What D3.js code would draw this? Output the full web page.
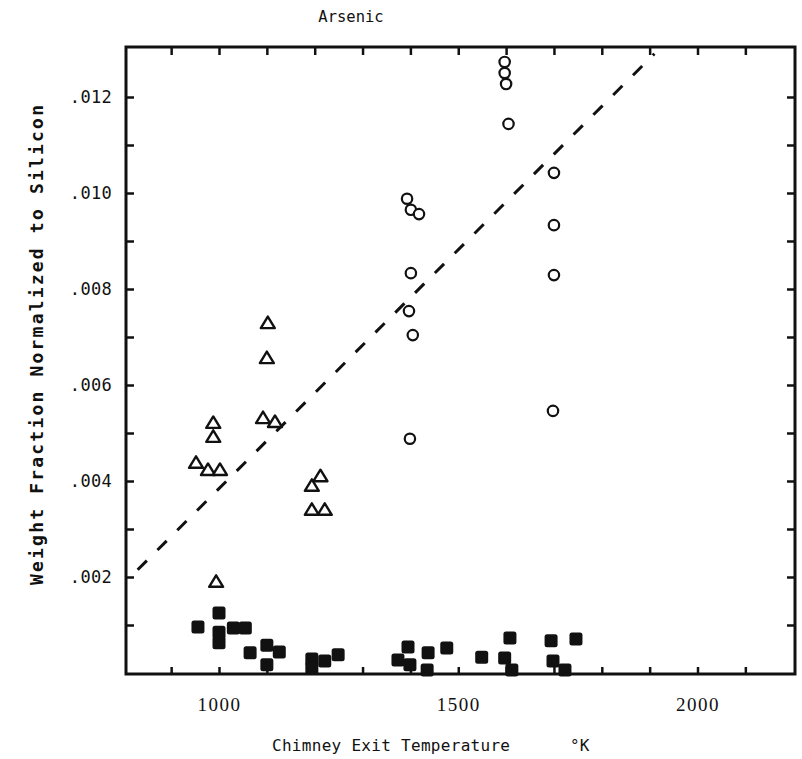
<!DOCTYPE html>
<html>
<head>
<meta charset="utf-8">
<script src="https://cdn.jsdelivr.net/npm/d3@7"></script>
<style>
  html, body { margin: 0; padding: 0; background: #fff; }
  svg { display: block; }
</style>
</head>
<body>
<svg id="chart" width="802" height="759"></svg>
<script>
// ---- data ----
const circleTemp = [1597, 1597, 1600, 1605, 1393, 1401, 1418, 1401, 1397, 1405, 1399, 1700, 1700, 1700, 1698];
const circleVal  = [0.01273, 0.0125, 0.01227, 0.01144, 0.00988, 0.00965, 0.00956, 0.00833, 0.00754, 0.00704, 0.00488, 0.01042, 0.00933, 0.00829, 0.00546];

const triTemp = [1102, 1100, 1092, 1117, 988, 988, 952, 977, 1002, 1194, 1212, 1194, 1221, 994];
const triVal  = [0.00729, 0.00656, 0.00531, 0.00523, 0.00521, 0.00492, 0.00438, 0.00423, 0.00423, 0.0039, 0.0041, 0.0034, 0.0034, 0.0019];

const sqTemp = [956, 1000, 1000, 1000, 1030, 1055, 1065, 1100, 1126, 1100, 1194, 1194, 1221, 1249,
                1374, 1395, 1399, 1437, 1435, 1476, 1549, 1608, 1597, 1612, 1694, 1746, 1698, 1723];
const sqVal  = [0.00096, 0.00125, 0.00085, 0.00063, 0.00094, 0.00094, 0.00042, 0.00058, 0.00044, 0.00017, 0.00029, 0.0001, 0.00025, 0.00038,
                0.00027, 0.00054, 0.00017, 0.00042, 0.00006, 0.00052, 0.00033, 0.00073, 0.00031, 0.00006, 0.00067, 0.00071, 0.00025, 0.00006];

const fitTemp = [830, 1910];
const fitVal  = [0.00215, 0.0129];

const xTickValues = [900, 1000, 1100, 1200, 1300, 1400, 1500, 1600, 1700, 1800, 1900, 2000, 2100];
const xTickLabels = ["1000", "1500", "2000"];
const yTickValues = [0.001, 0.002, 0.003, 0.004, 0.005, 0.006, 0.007, 0.008, 0.009, 0.010, 0.011, 0.012];
const yTickLabels = [".002", ".004", ".006", ".008", ".010", ".012"];

const title = "Arsenic";
const xTitle = "Chimney Exit Temperature";
const xUnit = "°K";
const yTitle = "Weight Fraction Normalized to Silicon";

// ---- layout ----
const svg = d3.select("#chart");
const L = 126, R = 795, T = 47, B = 674;
const x = d3.scaleLinear().domain([800, 2200]).range([123.3, 793.2]);
const y = d3.scaleLinear().domain([0, 0.013]).range([673, 49]);

const mono = "'DejaVu Sans Mono', 'Liberation Mono', monospace";
const serif = "'Liberation Serif', 'DejaVu Serif', serif";

// axes (ticks pointing inward)
const yLabelMap = new Map(yTickLabels.map(s => [(+s).toFixed(3), s]));
const yAxisL = d3.axisLeft(y).tickValues(yTickValues).tickSize(-8).tickPadding(14)
  .tickFormat(v => yLabelMap.get(v.toFixed(3)) || "");
const yAxisR = d3.axisRight(y).tickValues(yTickValues).tickSize(-8).tickFormat("");
const xLabelSet = new Set(xTickLabels);
const xAxisB = d3.axisBottom(x).tickValues(xTickValues).tickSize(-7).tickPadding(24)
  .tickFormat(v => xLabelSet.has(String(v)) ? String(v) : "");
const xAxisT = d3.axisTop(x).tickValues(xTickValues).tickSize(-8).tickFormat("");

function styleAxis(g) {
  g.select(".domain").remove();
  g.selectAll(".tick line").attr("stroke", "#111").attr("stroke-width", 2.5);
}

svg.append("g").attr("transform", `translate(${L},0)`).call(yAxisL).call(styleAxis)
  .selectAll("text").attr("font-family", mono).attr("font-size", 17).attr("fill", "#111")
  .attr("letter-spacing", 0.3);
svg.append("g").attr("transform", `translate(${R},0)`).call(yAxisR).call(styleAxis);
svg.append("g").attr("transform", `translate(0,${B})`).call(xAxisB).call(styleAxis)
  .selectAll("text").attr("font-family", serif).attr("font-size", 19).attr("fill", "#111")
  .attr("letter-spacing", 1.5);
svg.append("g").attr("transform", `translate(0,${T})`).call(xAxisT).call(styleAxis);

// frame
svg.append("rect").attr("x", L).attr("y", T).attr("width", R - L).attr("height", B - T)
  .attr("fill", "none").attr("stroke", "#111").attr("stroke-width", 3);

// dashed fit line
const line = d3.line().x(d => x(d[0])).y(d => y(d[1]));
svg.append("path").datum(fitTemp.map((t, i) => [t, fitVal[i]]))
  .attr("d", line).attr("fill", "none").attr("stroke", "#111")
  .attr("stroke-width", 3).attr("stroke-dasharray", "13 15");

// circles
svg.append("g").selectAll("circle").data(circleTemp.map((t, i) => [t, circleVal[i]]))
  .join("circle").attr("cx", d => x(d[0])).attr("cy", d => y(d[1])).attr("r", 5.2)
  .attr("fill", "#fff").attr("stroke", "#111").attr("stroke-width", 2.2);

// triangles
const triPath = "M0,-6.5 L7,5 L-7,5 Z";
svg.append("g").selectAll("path").data(triTemp.map((t, i) => [t, triVal[i]]))
  .join("path").attr("d", triPath)
  .attr("transform", d => `translate(${x(d[0])},${y(d[1])})`)
  .attr("fill", "#fff").attr("stroke", "#111").attr("stroke-width", 2.4)
  .attr("stroke-linejoin", "round");

// filled squares
svg.append("g").selectAll("rect").data(sqTemp.map((t, i) => [t, sqVal[i]]))
  .join("rect").attr("x", d => x(d[0]) - 6.5).attr("y", d => y(d[1]) - 6.5)
  .attr("width", 13).attr("height", 13).attr("rx", 2.5)
  .attr("fill", "#111");

// titles
svg.append("text").attr("x", 351).attr("y", 22).attr("text-anchor", "middle")
  .attr("font-family", mono).attr("font-size", 15.5).attr("fill", "#111").text(title);

svg.append("text").attr("x", 272).attr("y", 751)
  .attr("font-family", mono).attr("font-size", 16).attr("fill", "#111")
  .attr("textLength", 238).attr("lengthAdjust", "spacing").text(xTitle);
svg.append("text").attr("x", 570).attr("y", 751)
  .attr("font-family", mono).attr("font-size", 16).attr("fill", "#111").text(xUnit);

svg.append("text").attr("transform", "translate(43,345) rotate(-90)")
  .attr("text-anchor", "middle")
  .attr("font-family", mono).attr("font-size", 18).attr("font-weight", "bold").attr("fill", "#111")
  .attr("textLength", 480).attr("lengthAdjust", "spacing").text(yTitle);
</script>
</body>
</html>
